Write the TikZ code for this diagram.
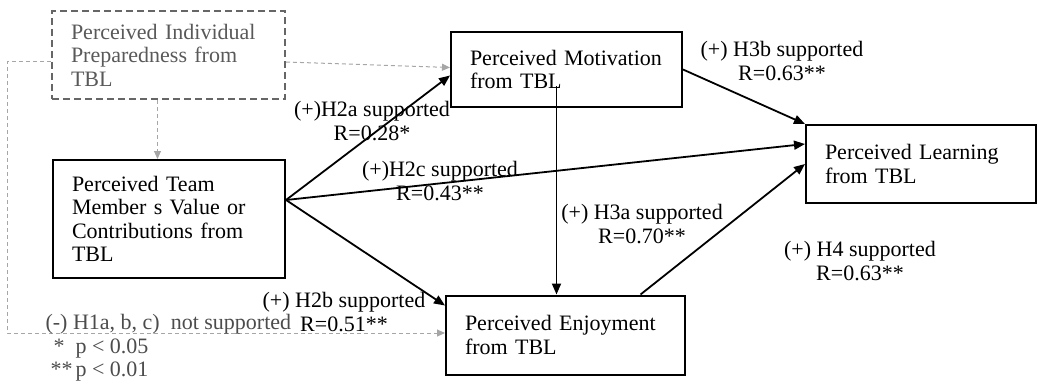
\documentclass[tikz,border=0pt]{standalone}
\usepackage{fontspec}
\setmainfont{Liberation Serif}
\usetikzlibrary{arrows.meta}

\tikzset{
  box/.style={draw, line width=2pt, align=left, inner xsep=19pt},
  prepbox/.style={box, draw=black!60, dash pattern=on 7pt off 4pt, text=black!65},
  arr/.style={-{Triangle[length=11pt,width=9pt]}, line width=1.8pt},
  faint/.style={-{Triangle[length=8pt,width=7pt]}, draw=black!35, line width=1pt, dash pattern=on 4pt off 3pt},
  hyp/.style={align=center},
}

\begin{document}
\begin{tikzpicture}[x=1pt, y=-1pt, every node/.style={font=\fontsize{22}{23.5}\selectfont}]
\useasboundingbox (0,0) rectangle (1038,385);
% constructs
\node[prepbox, text width=195pt, minimum height=88pt] (prep) at (168.5,55) {Perceived Individual\\Preparedness from\\TBL};
\node[box, text width=194pt, minimum height=118pt] (team) at (169,219) {Perceived Team\\Member s Value or\\Contributions from\\TBL};
\node[box, text width=193pt, minimum height=75pt] (motiv) at (566.5,69.5) {Perceived Motivation\\from TBL\par\vspace{10pt}};
\node[box, text width=201pt, minimum height=79pt] (enjoy) at (565.5,335) {Perceived Enjoyment\\from TBL\par\vspace{10pt}};
\node[box, text width=192pt, minimum height=78pt] (learn) at (921,164) {Perceived Learning\\from TBL\par\vspace{10pt}};

% supported paths
\coordinate (tout) at ([yshift=19pt]team.east);
\draw[arr] (tout) -- ([yshift=-6pt]motiv.west);
\draw[arr] (tout) -- ([yshift=20pt]learn.west);
\draw[arr] (tout) -- ([yshift=-11pt]enjoy.north west);
\coordinate (mdrop) at ([xshift=-10pt,yshift=-17pt]motiv.center);
\draw[arr] (mdrop) -- (mdrop |- enjoy.north);
\draw[arr] (motiv.east) -- (learn.north west);
\draw[arr] ([xshift=75pt]enjoy.north) -- (learn.west);

% H1 paths, not supported
\draw[faint] ([yshift=-7pt]prep.east) -- ([yshift=2pt]motiv.west);
\draw[faint] ([xshift=-11pt]prep.south) -- ([xshift=-11pt]prep.south |- team.north);
\draw[faint] ([yshift=-7pt]prep.west) -- ++(-44,0) |- ([yshift=2pt]enjoy.west);

% labels
\node[hyp] (h2a) at (372,121) {(+)H2a supported\\R=0.28*};
\node[hyp] (h2c) at (440,181) {(+)H2c supported\\R=0.43**};
\node[hyp] (h3b) at (782,61) {(+) H3b supported\\R=0.63**};
\node[hyp] (h3a) at (642,224) {(+) H3a supported\\R=0.70**};
\node[hyp] (h4) at (860,261) {(+) H4 supported\\R=0.63**};
\node[hyp] (h2b) at (344,312) {(+) H2b supported\\R=0.51**};
\node[anchor=west, align=left, text=black!70] (legend) at (42,348) {(-) H1a, b, c)\ \ not supported\\
  \makebox[30pt][l]{\hspace{8pt}*}p < 0.05\\
  \makebox[30pt][l]{\hspace{5pt}**}p < 0.01};
\end{tikzpicture}
\end{document}
